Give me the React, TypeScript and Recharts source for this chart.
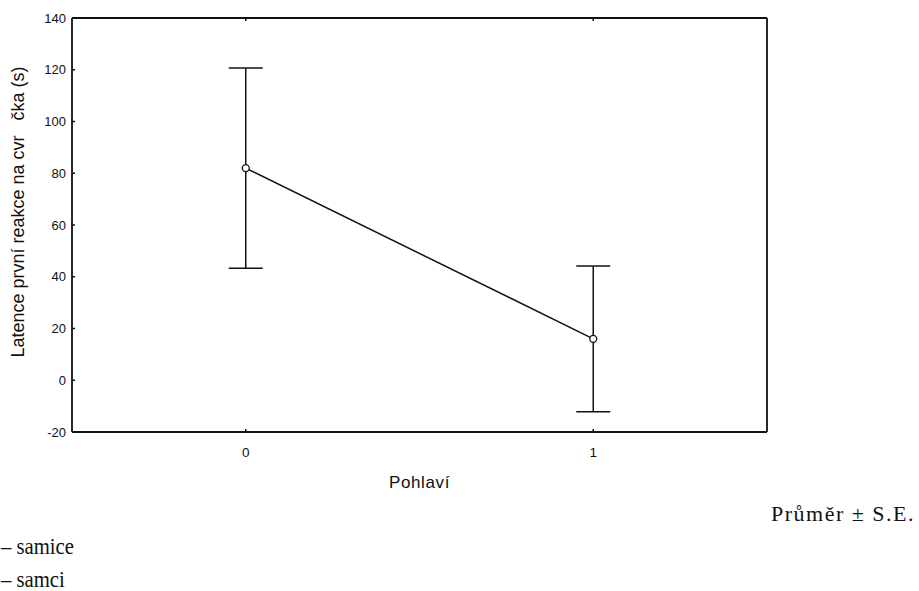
import React from "react";
import {
  ComposedChart,
  Line,
  XAxis,
  YAxis,
  ErrorBar,
} from "recharts";

// Pohlaví: 0 = samice, 1 = samci
const groups = [0, 1];
const means = [82, 16];
const stdErrors = [38.7, 28.2];
const yTicks = [-20, 0, 20, 40, 60, 80, 100, 120, 140];
const xTicks = [0, 1];

const yTitle = "Latence první reakce na cvr\u00a0\u00a0\u00a0čka (s)";
const xTitle = "Pohlaví";
const statNote = "Průměr ± S.E.";
const legendLines = ["– samice", "– samci"];

const data = groups.map((g, i) => ({ group: g, mean: means[i], se: stdErrors[i] }));

const SANS = "Arial, 'Liberation Sans', Helvetica, sans-serif";
const SERIF = "'Liberation Serif', 'Times New Roman', serif";
const INK = "#111";
const TICK_LEN = 3;

const LeftTick = (props: any) => {
  const { x, y, payload } = props;
  const axisX = x + 6;
  return (
    <g>
      <line x1={axisX} x2={axisX + TICK_LEN} y1={y} y2={y} stroke={INK} strokeWidth={1.5} />
      <text x={x} y={y} dy={4.5} textAnchor="end" fontFamily={SANS} fontSize={13} fill={INK}>
        {payload.value}
      </text>
    </g>
  );
};

const RightTick = (props: any) => {
  const { x, y } = props;
  return <line x1={x - TICK_LEN} x2={x} y1={y} y2={y} stroke={INK} strokeWidth={1.5} />;
};

const BottomTick = (props: any) => {
  const { x, y, payload } = props;
  const axisY = y;
  return (
    <g>
      <line x1={x} x2={x} y1={axisY - TICK_LEN} y2={axisY} stroke={INK} strokeWidth={1.5} />
      <text x={x} y={axisY + 25} textAnchor="middle" fontFamily={SANS} fontSize={13.5} fill={INK}>
        {payload.value}
      </text>
    </g>
  );
};

const TopTick = (props: any) => {
  const { x, y } = props;
  return <line x1={x} x2={x} y1={y} y2={y + TICK_LEN} stroke={INK} strokeWidth={1.5} />;
};

const YTitle = (props: any) => {
  const vb = props.viewBox;
  const cx = vb.x + 6;
  const cy = vb.y + vb.height / 2 - 13;
  return (
    <text
      x={cx}
      y={cy}
      transform={`rotate(-90 ${cx} ${cy})`}
      textAnchor="middle"
      dominantBaseline="central"
      fontFamily={SANS}
      fontSize={18}
      fill={INK}
    >
      {yTitle}
    </text>
  );
};

const XTitle = (props: any) => {
  const vb = props.viewBox;
  return (
    <text
      x={vb.x + vb.width / 2}
      y={vb.y + 56}
      textAnchor="middle"
      fontFamily={SANS}
      fontSize={17}
      letterSpacing={0.6}
      fill={INK}
    >
      {xTitle}
    </text>
  );
};

export default function App() {
  return (
    <div style={{ position: "absolute", left: 0, top: 0, width: 919, height: 591, background: "#fff" }}>
      <ComposedChart
        width={919}
        height={591}
        data={data}
        margin={{ top: 17, right: 151, bottom: 129, left: 12 }}
      >
        <XAxis
          dataKey="group"
          type="number"
          domain={[-0.5, 1.5]}
          ticks={xTicks}
          height={30}
          tickSize={0}
          tickMargin={0}
          tickLine={false}
          axisLine={{ stroke: INK, strokeWidth: 1.8 }}
          tick={<BottomTick />}
          label={<XTitle />}
        />
        <XAxis
          xAxisId="top"
          dataKey="group"
          type="number"
          orientation="top"
          domain={[-0.5, 1.5]}
          ticks={xTicks}
          height={1}
          tickSize={0}
          tickMargin={0}
          tickLine={false}
          axisLine={{ stroke: INK, strokeWidth: 1.8 }}
          tick={<TopTick />}
        />
        <YAxis
          type="number"
          domain={[-20, 140]}
          ticks={yTicks}
          width={60}
          tickSize={0}
          tickMargin={6}
          tickLine={false}
          allowDataOverflow
          axisLine={{ stroke: INK, strokeWidth: 1.8 }}
          tick={<LeftTick />}
          label={<YTitle />}
        />
        <YAxis
          yAxisId="right"
          type="number"
          orientation="right"
          domain={[-20, 140]}
          ticks={yTicks}
          width={1}
          tickSize={0}
          tickMargin={0}
          tickLine={false}
          axisLine={{ stroke: INK, strokeWidth: 1.8 }}
          tick={<RightTick />}
        />
        <Line
          dataKey="mean"
          type="linear"
          stroke={INK}
          strokeWidth={1.5}
          isAnimationActive={false}
          dot={{ r: 3.5, fill: "#fff", stroke: INK, strokeWidth: 1.3 }}
          activeDot={false}
        >
          <ErrorBar dataKey="se" direction="y" width={17} stroke={INK} strokeWidth={1.5} />
        </Line>
      </ComposedChart>
      <svg
        width={919}
        height={591}
        style={{ position: "absolute", left: 0, top: 0, pointerEvents: "none" }}
      >
        <text x={771} y={521} fontFamily={SERIF} fontSize={22} letterSpacing={1.5} fill={INK}>
          {statNote}
        </text>
        <text
          x={1}
          y={554}
          fontFamily={SERIF}
          fontSize={23}
          fill={INK}
          transform="translate(0 554) scale(0.9 1) translate(0 -554)"
        >
          {legendLines[0]}
        </text>
        <text
          x={1}
          y={587}
          fontFamily={SERIF}
          fontSize={23}
          fill={INK}
          transform="translate(0 587) scale(0.9 1) translate(0 -587)"
        >
          {legendLines[1]}
        </text>
      </svg>
    </div>
  );
}
